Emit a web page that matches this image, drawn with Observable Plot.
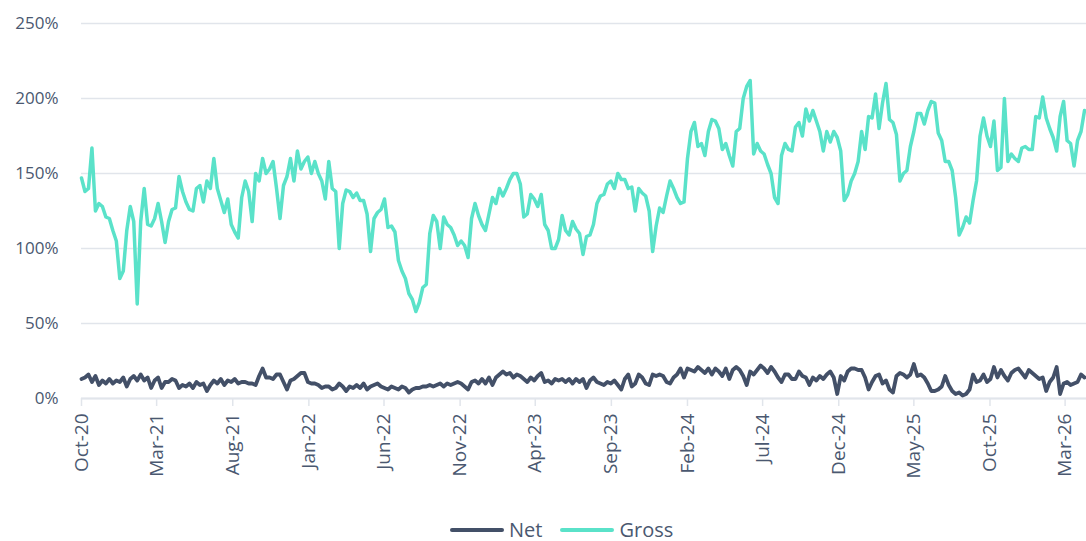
<!DOCTYPE html>
<html>
<head>
<meta charset="utf-8">
<script src="https://cdn.jsdelivr.net/npm/d3@7"></script>
<script src="https://cdn.jsdelivr.net/npm/@observablehq/plot@0.6"></script>
<style>
  html, body { margin: 0; padding: 0; background: #fff; }
  body { font-family: "Open Sans", sans-serif; width: 1086px; height: 541px; position: relative; overflow: hidden; }
  #legend { position: absolute; left: 450px; top: 519px; height: 22px; display: flex; align-items: center; font-size: 20px; color: #4a5870; line-height: 22px; }
  #legend .sw { width: 54px; height: 4px; border-radius: 2px; margin-right: 5px; }
  #legend .item { display: flex; align-items: center; margin-right: 18px; }
</style>
</head>
<body>
<div id="chart"></div>
<div id="legend"></div>
<script>
// Weekly readings, first reading on startDate, one every stepDays days
const startDate = "2020-10-01";
const stepDays = 7;

const gross = [
147,138,140,167,125,130,128,121,120,112,
105,80,85,112,128,118,63,118,140,116,
115,120,130,118,104,118,126,127,148,138,
131,126,125,140,142,131,145,140,160,140,
132,124,133,116,111,107,134,145,138,118,
150,145,160,150,153,158,140,120,142,148,
160,145,165,153,158,161,150,158,150,145,
133,158,140,138,100,130,139,138,134,137,
132,132,123,98,120,124,126,133,114,115,
111,92,85,80,70,66,58,64,74,76,
110,122,118,100,121,116,114,109,102,105,
102,94,120,130,122,116,112,123,134,130,
140,135,140,146,150,150,143,121,123,136,
133,128,136,116,112,100,100,106,122,112,
109,118,113,110,96,108,109,116,130,135,
136,143,145,140,150,146,146,140,141,125,
140,137,135,125,98,115,127,124,135,145,
140,134,130,131,160,178,184,168,170,162,
178,186,185,180,166,170,162,155,178,180,
200,208,212,163,170,165,163,156,150,134,
130,162,170,166,165,181,184,175,193,185,
192,185,178,165,178,171,178,174,165,132,
136,145,150,158,178,166,188,187,203,180,
197,210,186,184,176,145,150,152,168,178,
190,190,183,192,198,197,177,172,158,158,
152,134,109,114,121,117,132,145,175,187,
175,168,185,152,154,200,158,163,160,158,
167,168,166,166,188,187,201,187,180,174,
165,188,198,172,170,155,172,178,192
];

const net = [
13,14,16,11,15,9,12,10,13,10,
12,11,14,8,13,15,12,16,12,14,
7,12,14,7,11,11,13,12,7,9,
8,10,7,11,9,10,5,9,12,10,
13,9,12,11,13,10,11,11,10,10,
9,15,20,14,14,13,16,16,11,6,
12,13,15,17,17,11,10,10,9,7,
8,8,6,7,10,8,5,8,7,9,
7,10,6,8,9,10,8,7,6,8,
7,6,8,7,4,6,7,7,8,8,
9,8,9,10,8,10,9,10,11,10,
8,6,11,12,10,13,10,14,9,14,
16,18,16,17,14,16,15,13,11,14,
12,15,17,11,12,10,13,12,13,11,
13,10,13,11,13,7,12,14,11,10,
9,11,10,12,9,6,13,16,8,10,
16,14,10,9,16,15,16,15,11,10,
14,16,20,14,20,19,18,21,19,17,
20,16,20,18,15,20,13,19,21,19,
15,9,18,16,19,22,20,17,21,18,
14,11,16,16,13,13,18,15,14,9,
14,12,15,13,16,18,14,3,15,12,
18,20,20,19,19,14,6,11,15,16,
10,12,6,4,15,17,16,14,16,23,
15,16,14,10,5,5,6,8,15,9,
5,3,4,2,3,6,16,11,12,16,
11,13,21,14,19,15,12,17,19,20,
17,14,19,17,15,13,14,5,11,14,
21,3,10,11,9,10,11,16,14
];

const tickDates = ["2020-10-01","2021-03-01","2021-08-01","2022-01-01","2022-06-01","2022-11-01","2023-04-01","2023-09-01","2024-02-01","2024-07-01","2024-12-01","2025-05-01","2025-10-01","2026-03-01"];
const tickLabels = ["Oct-20","Mar-21","Aug-21","Jan-22","Jun-22","Nov-22","Apr-23","Sep-23","Feb-24","Jul-24","Dec-24","May-25","Oct-25","Mar-26"];
const yTicks = [0, 50, 100, 150, 200, 250];
const domainEnd = "2026-04-13";
const seriesNames = ["Net", "Gross"];
const seriesColors = ["#435068", "#5ae2c9"];

const t0 = new Date(startDate + "T00:00:00Z");
const rows = [];
gross.forEach((v, i) => rows.push({date: d3.utcDay.offset(t0, i * stepDays), value: v, series: "Gross"}));
net.forEach((v, i) => rows.push({date: d3.utcDay.offset(t0, i * stepDays), value: v, series: "Net"}));

const gridColor = "#e1e5eb";
const textColor = "#4a5870";

const chart = Plot.plot({
  width: 1086,
  height: 500,
  marginLeft: 81,
  marginRight: 0,
  marginTop: 23,
  marginBottom: 102,
  style: {fontFamily: "'Open Sans', sans-serif", background: "#fff", overflow: "visible"},
  x: {type: "utc", domain: [t0, new Date(domainEnd + "T00:00:00Z")]},
  y: {domain: [0, 250]},
  color: {domain: seriesNames, range: seriesColors},
  marks: [
    Plot.gridY(yTicks, {stroke: gridColor, strokeOpacity: 1, strokeWidth: 1.5}),
    Plot.ruleY([0], {stroke: gridColor, strokeWidth: 2}),
    Plot.axisY(yTicks, {tickSize: 0, tickPadding: 23, tickFormat: d => d + "%", fontSize: 17, fill: textColor, label: null}),
    Plot.axisX(tickDates.map(d => new Date(d + "T00:00:00Z")), {
      tickSize: 8, tickPadding: 7, tickRotate: -90, stroke: gridColor, strokeWidth: 1.5,
      tickFormat: (d, i) => tickLabels[i], fontSize: 19, fill: textColor, label: null
    }),
    Plot.lineY(rows.filter(d => d.series === "Net"), {x: "date", y: "value", stroke: "series", strokeWidth: 3.8, strokeLinejoin: "round", strokeLinecap: "round"}),
    Plot.lineY(rows.filter(d => d.series === "Gross"), {x: "date", y: "value", stroke: "series", strokeWidth: 3.5, strokeLinejoin: "round", strokeLinecap: "round"})
  ]
});
document.getElementById("chart").appendChild(chart);

const legend = document.getElementById("legend");
seriesNames.forEach((name, k) => {
  const item = document.createElement("div");
  item.className = "item";
  const sw = document.createElement("div");
  sw.className = "sw";
  sw.style.background = seriesColors[k];
  const lab = document.createElement("span");
  lab.textContent = name;
  item.appendChild(sw);
  item.appendChild(lab);
  legend.appendChild(item);
});
</script>
</body>
</html>
